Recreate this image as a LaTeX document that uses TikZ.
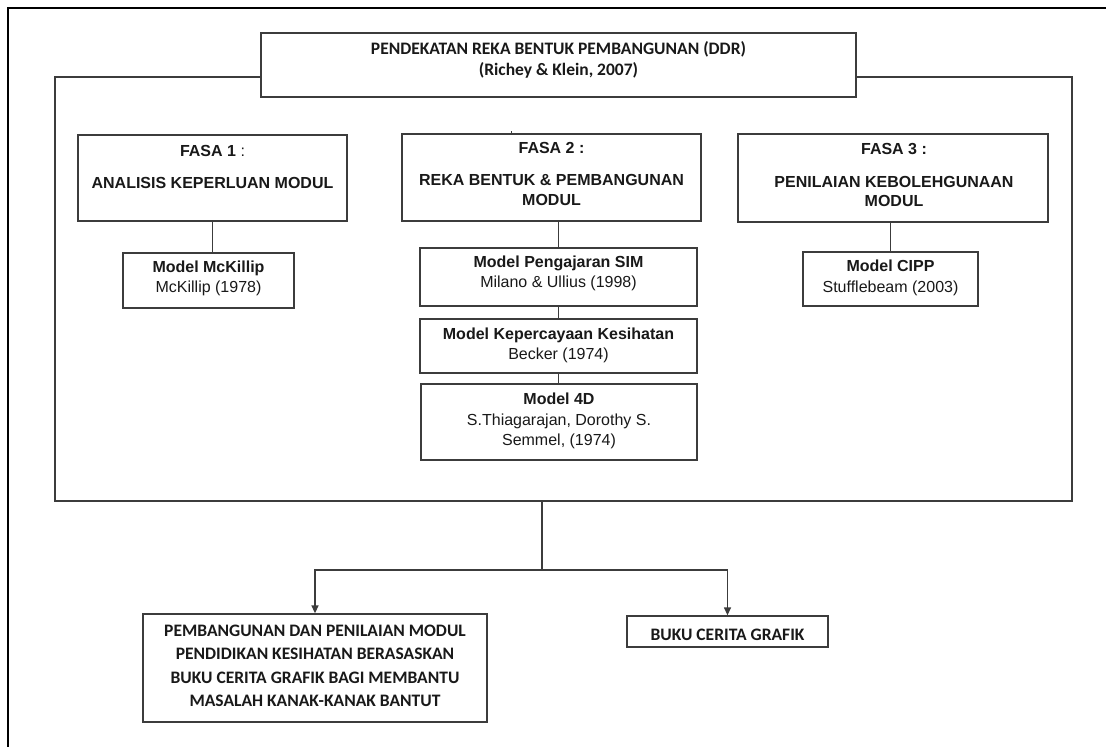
\documentclass[tikz,border=0pt]{standalone}
\usepackage{fontspec}
\setmainfont{Liberation Sans}
\newfontfamily\calfont{Carlito}
\usetikzlibrary{arrows.meta}
\definecolor{linec}{RGB}{60,60,60}
\definecolor{txtc}{RGB}{25,25,25}
\begin{document}
\begin{tikzpicture}[x=1pt,y=-1pt,
  box/.style={draw=linec, line width=1.3pt, fill=white, inner sep=0pt, rectangle},
  conn/.style={draw=linec, line width=1.3pt},
  arr/.style={conn, -{Triangle[length=8pt,width=7pt]}},
  outer/.style={draw=black, line width=2.2pt},
  ar/.style={anchor=base, inner sep=0pt, text=txtc, font=\fontsize{16}{19}\selectfont},
  arb/.style={anchor=base, inner sep=0pt, text=txtc, font=\fontsize{16}{19}\selectfont\bfseries},
  cal/.style={anchor=base, inner sep=0pt, text=txtc, font=\calfont\fontsize{17.5}{21}\selectfont\bfseries}]
\useasboundingbox (0,0) rectangle (1106,747);
% outer page frame
\coordinate (otr) at (1106,8);
\coordinate (otl) at (8,8);
\coordinate (obl) at (8,747);
\draw[outer] (otr) -- (otl) -- (obl);
% big frame
\node[box, fill=none, minimum width=1017pt, minimum height=424pt] (frame) at (563.5,289) {};
% title
\node[box, minimum width=595pt, minimum height=64pt] (title) at (558.5,65) {};
\node[cal] (tt1) at (558.5,54) {PENDEKATAN REKA BENTUK PEMBANGUNAN (DDR)};
\node[cal] (tt2) at (558.5,75) {(Richey \& Klein, 2007)};
% phase boxes
\node[box, minimum width=269pt, minimum height=86pt] (f1) at (212.5,178) {};
\node[arb] (f1a) at (212.5,156) {FASA 1 {\mdseries:}};
\node[arb] (f1b) at (212.5,188.5) {ANALISIS KEPERLUAN MODUL};
\node[box, minimum width=299pt, minimum height=87pt] (f2) at (551.5,177.5) {};
\node[arb] (f2a) at (551.5,153.5) {FASA 2 :};
\node[arb] (f2b) at (551.5,185.5) {REKA BENTUK \& PEMBANGUNAN};
\node[arb] (f2c) at (551.5,205) {MODUL};
\node[box, minimum width=310pt, minimum height=88pt] (f3) at (893,178) {};
\node[arb] (f3a) at (894,154.4) {FASA 3 :};
\node[arb] (f3b) at (894,187.4) {PENILAIAN KEBOLEHGUNAAN};
\node[arb] (f3c) at (894,206.5) {MODUL};
\coordinate (stub) at (511,131);
\draw[conn, line width=1pt] (stub) -- (stub |- f2.north);
% model boxes
\node[box, minimum width=171pt, minimum height=55pt] (mck) at (208.5,280.5) {};
\node[arb] (mck1) at (208.5,272) {Model McKillip};
\node[ar] (mck2) at (208.5,292) {McKillip (1978)};
\node[box, minimum width=277pt, minimum height=58pt] (sim) at (558.5,277) {};
\node[arb] (sim1) at (558.5,267.4) {Model Pengajaran SIM};
\node[ar] (sim2) at (558.5,287.4) {Milano \& Ullius (1998)};
\node[box, minimum width=277pt, minimum height=54pt] (kep) at (558.5,346) {};
\node[arb] (kep1) at (558.5,339) {Model Kepercayaan Kesihatan};
\node[ar] (kep2) at (558.5,359.5) {Becker (1974)};
\node[box, minimum width=276pt, minimum height=76pt] (m4d) at (559,422) {};
\node[arb] (m4d1) at (559,404.5) {Model 4D};
\node[ar] (m4d2) at (559,425.5) {S.Thiagarajan, Dorothy S.};
\node[ar] (m4d3) at (559,445) {Semmel, (1974)};
\node[box, minimum width=175pt, minimum height=54pt] (cipp) at (890.5,279) {};
\node[arb] (cipp1) at (890.5,271.5) {Model CIPP};
\node[ar] (cipp2) at (890.5,292) {Stufflebeam (2003)};
% connectors inside frame
\draw[conn] (f1.south) -- (f1.south |- mck.north);
\draw[conn] (sim.north |- f2.south) -- (sim.north);
\draw[conn] (sim.south) -- (sim.south |- kep.north);
\draw[conn] (kep.south) -- (kep.south |- m4d.north);
\draw[conn] (cipp.north |- f3.south) -- (cipp.north);
% outputs
\node[box, minimum width=344pt, minimum height=108pt] (b1) at (315,668) {};
\node[cal] (b1a) at (315,636.4) {PEMBANGUNAN DAN PENILAIAN MODUL};
\node[cal] (b1b) at (315,659.8) {PENDIDIKAN KESIHATAN BERASASKAN};
\node[cal] (b1c) at (315,683) {BUKU CERITA GRAFIK BAGI MEMBANTU};
\node[cal] (b1d) at (315,706.4) {MASALAH KANAK-KANAK BANTUT};
\node[box, minimum width=201pt, minimum height=31pt] (b2) at (727.5,631.5) {};
\node[cal] (b2a) at (727.5,640) {BUKU CERITA GRAFIK};
\coordinate (split) at (542,570);
\draw[conn] (split |- frame.south) -- (split);
\draw[arr] (split) -| (b1.north);
\draw[arr] (split) -| (b2.north);
\end{tikzpicture}
\end{document}
